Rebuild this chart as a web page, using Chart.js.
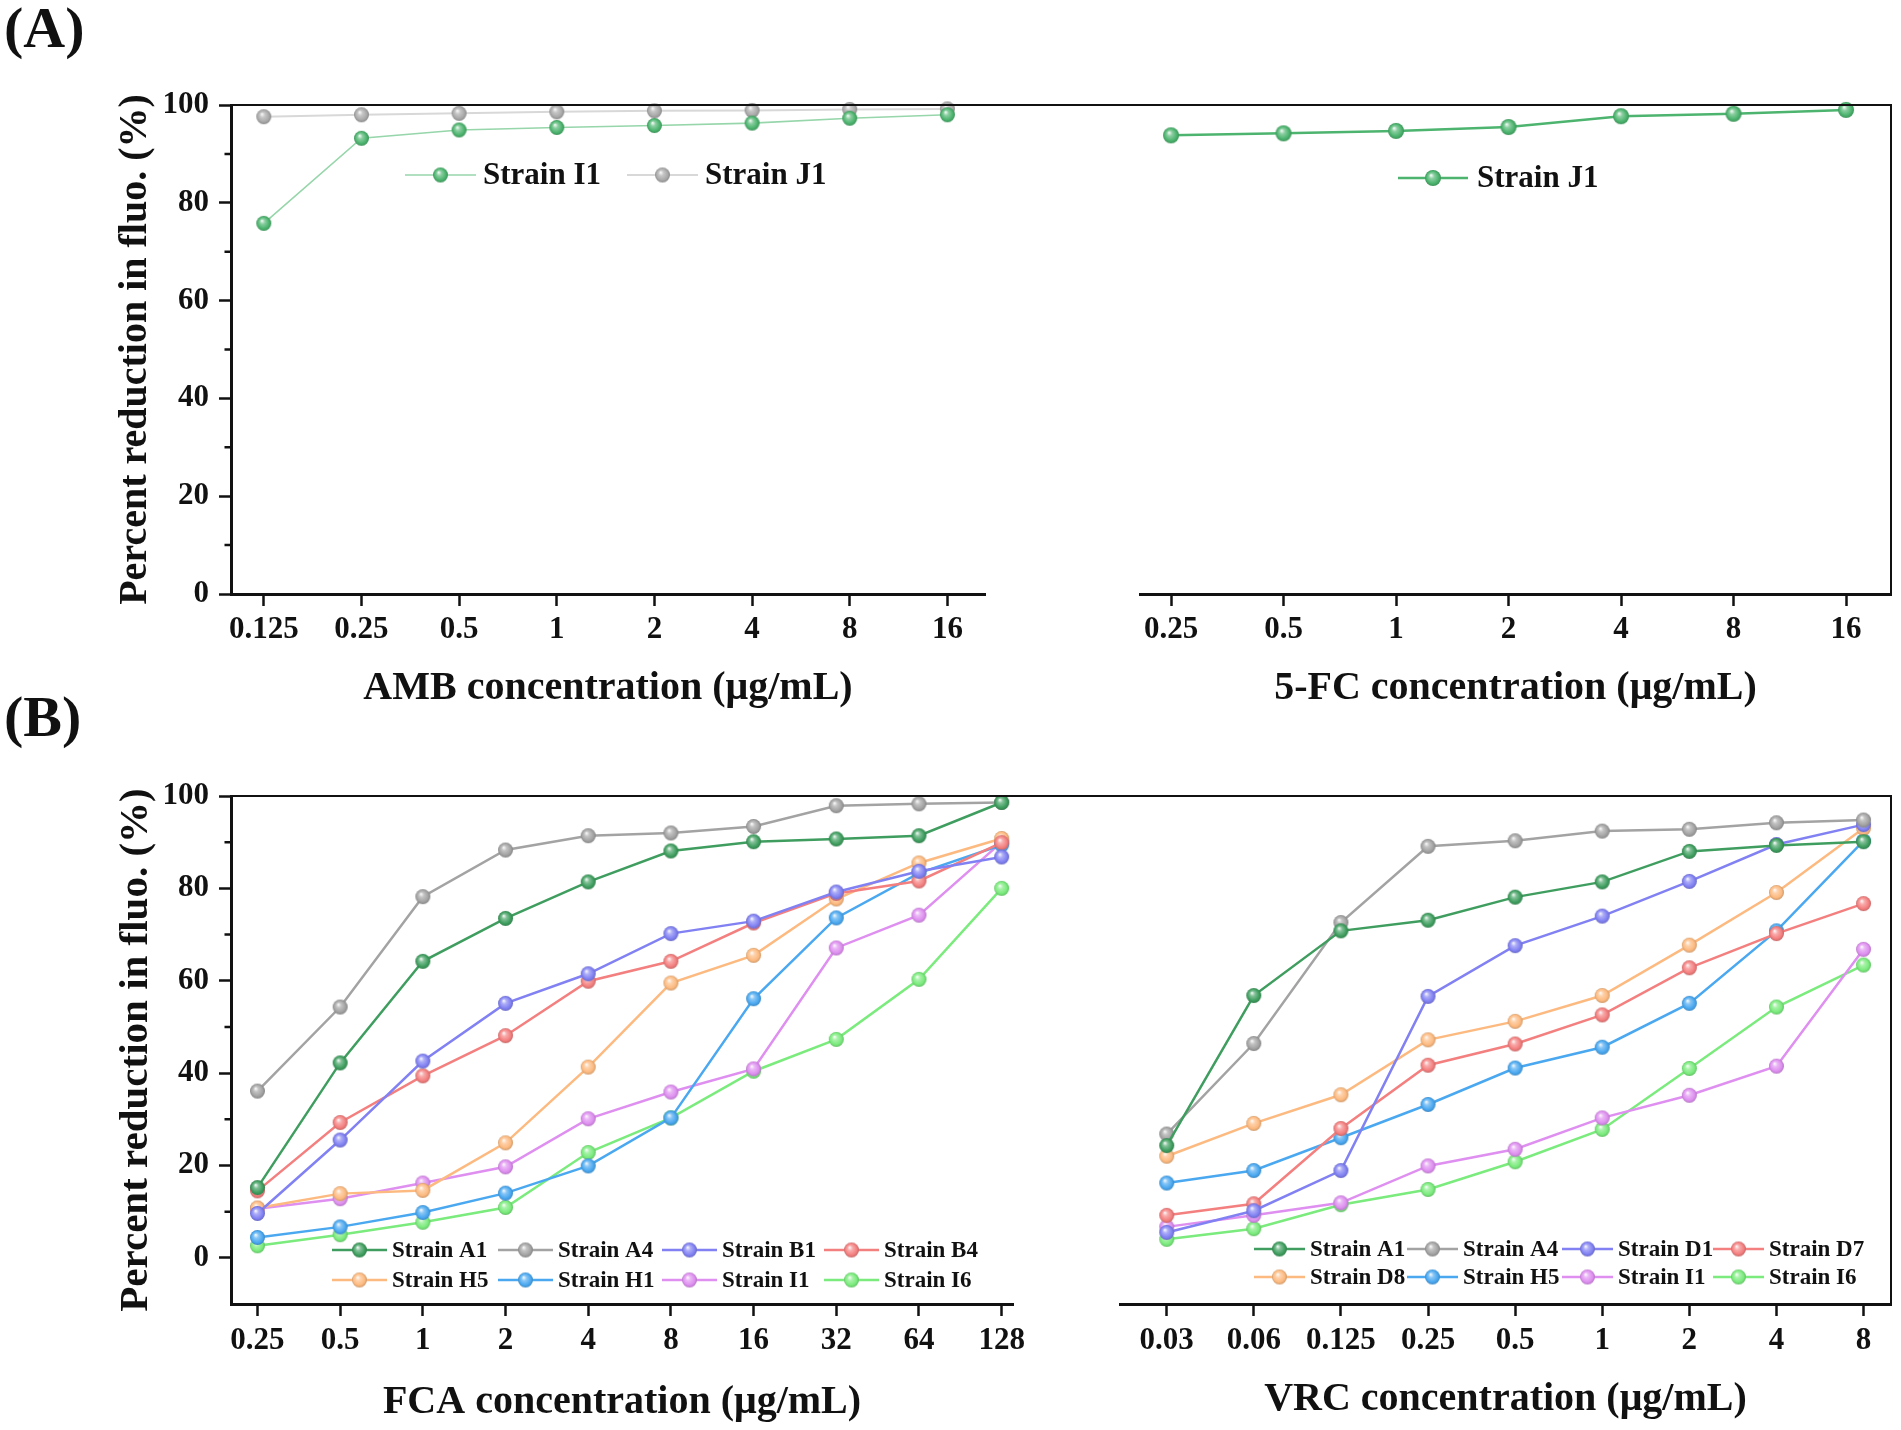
<!DOCTYPE html>
<html lang="en">
<head>
<meta charset="UTF-8">
<title>Percent reduction in fluorescence</title>
<script src="https://cdn.jsdelivr.net/npm/chart.js"></script>
<style>
  html, body { margin: 0; padding: 0; background: #fff; }
  #page { position: relative; width: 1901px; height: 1430px; overflow: hidden; font-family: "Liberation Serif", "Times New Roman", serif; }
  canvas { position: absolute; left: 0; }
  .tag { position: absolute; left: 4px; font-weight: bold; font-size: 58px; line-height: 1; color: #111; }
</style>
</head>
<body>
<div id="page">
  <div class="tag" style="top:-1px">(A)</div>
  <div class="tag" style="top:688px">(B)</div>
  <canvas id="ambChart" width="1901" height="730" style="top:0"></canvas>
  <canvas id="fcChart" width="1901" height="730" style="top:0"></canvas>
  <canvas id="fcaChart" width="1901" height="700" style="top:730px"></canvas>
  <canvas id="vrcChart" width="1901" height="700" style="top:730px"></canvas>
</div>
<script>
// ---- data ----
const yTicks = [0, 20, 40, 60, 80, 100];
const yMinor = [10, 30, 50, 70, 90];

// (A) AMB
const ambLabels = ['0.125', '0.25', '0.5', '1', '2', '4', '8', '16'];
const ambI1 = [75.8, 93.2, 94.9, 95.4, 95.8, 96.3, 97.3, 98.0];
const ambJ1 = [97.6, 98.0, 98.3, 98.6, 98.8, 98.9, 99.1, 99.2];

// (A) 5-FC
const fcLabels = ['0.25', '0.5', '1', '2', '4', '8', '16'];
const fcJ1 = [93.8, 94.2, 94.7, 95.5, 97.7, 98.2, 99.0];

// (B) FCA
const fcaLabels = ['0.25', '0.5', '1', '2', '4', '8', '16', '32', '64', '128'];
const fcaA1 = [15.2, 42.2, 64.2, 73.5, 81.4, 88.1, 90.1, 90.7, 91.4, 98.6];
const fcaA4 = [36.1, 54.3, 78.2, 88.3, 91.4, 92.0, 93.4, 97.9, 98.3, 98.6];
const fcaB1 = [9.6, 25.5, 42.6, 55.1, 61.5, 70.2, 72.9, 79.2, 83.7, 86.8];
const fcaB4 = [14.5, 29.3, 39.4, 48.1, 59.9, 64.2, 72.5, 78.9, 81.6, 89.9];
const fcaH5 = [10.8, 13.9, 14.6, 24.9, 41.3, 59.5, 65.5, 77.7, 85.5, 90.8];
const fcaH1 = [4.4, 6.7, 9.8, 14.0, 19.9, 30.3, 56.1, 73.6, 83.3, 89.4];
const fcaI1 = [10.6, 12.8, 16.2, 19.7, 30.1, 35.9, 40.9, 67.1, 74.2, 90.0];
const fcaI6 = [2.6, 5.0, 7.7, 10.9, 22.8, 30.3, 40.4, 47.3, 60.3, 80.0];

// (B) VRC
const vrcLabels = ['0.03', '0.06', '0.125', '0.25', '0.5', '1', '2', '4', '8'];
const vrcA1 = [24.3, 56.8, 70.8, 73.1, 78.1, 81.4, 88.0, 89.3, 90.1];
const vrcA4 = [26.8, 46.4, 72.6, 89.1, 90.3, 92.4, 92.8, 94.2, 94.8];
const vrcD1 = [5.5, 10.2, 18.9, 56.6, 67.6, 74.0, 81.5, 89.5, 93.8];
const vrcD7 = [9.2, 11.7, 28.0, 41.7, 46.3, 52.6, 62.8, 70.2, 76.7];
const vrcD8 = [22.0, 29.1, 35.3, 47.2, 51.2, 56.8, 67.7, 79.1, 93.0];
const vrcH5 = [16.2, 18.9, 26.0, 33.2, 41.1, 45.6, 55.1, 70.8, 90.3];
const vrcI1 = [6.7, 9.2, 11.9, 19.9, 23.5, 30.3, 35.2, 41.5, 66.8];
const vrcI6 = [4.0, 6.3, 11.5, 14.8, 20.8, 27.8, 41.0, 54.3, 63.4];

// ---- styling ----
const SERIF = '"Liberation Serif", "Times New Roman", serif';
const INK = '#111';
const C = {
  green: '#3f9e5f', gray: '#a3a3a3', violet: '#8181f3', red: '#f47f7f',
  orange: '#fdba80', blue: '#4aa8f0', pink: '#de8ff0', lime: '#7aeb7c'
};

function shade(hex, t) {
  const n = parseInt(hex.slice(1), 16);
  const to = t >= 0 ? 255 : 0, k = Math.abs(t);
  const ch = v => Math.round(v + (to - v) * k);
  return 'rgb(' + ch(n >> 16) + ',' + ch((n >> 8) & 255) + ',' + ch(n & 255) + ')';
}

// shaded "ball" marker like the original plot symbols
function ball(color, r) {
  const c = document.createElement('canvas');
  const s = Math.ceil(r * 2 + 2);
  c.width = c.height = s;
  const g = c.getContext('2d');
  const m = s / 2;
  const grad = g.createRadialGradient(m - r * 0.25, m - r * 0.35, r * 0.05, m, m, r);
  grad.addColorStop(0, shade(color, 0.9));
  grad.addColorStop(0.3, shade(color, 0.35));
  grad.addColorStop(0.75, color);
  grad.addColorStop(1, shade(color, -0.18));
  g.fillStyle = grad;
  g.beginPath(); g.arc(m, m, r, 0, Math.PI * 2); g.fill();
  return c;
}

function series(label, values, color, o = {}) {
  return {
    label,
    data: values.map((y, i) => ({ x: i, y })),
    borderColor: o.line || color,
    borderWidth: o.width || 2.5,
    pointStyle: ball(color, o.r || 7.5),
    pointRadius: 7.5,
    tension: 0,
    fill: false,
    clip: false
  };
}

// top/right frame, minor y ticks and the in-plot legend
const framePlugin = {
  id: 'frame',
  afterDraw(chart, args, o) {
    const { ctx, chartArea: a } = chart;
    ctx.save();
    ctx.strokeStyle = INK;
    ctx.lineWidth = 2;
    ctx.beginPath();
    ctx.moveTo(a.left, a.top);
    ctx.lineTo(a.right + (o.extend || 0), a.top);
    if (o.right) { ctx.moveTo(a.right, a.top - 1); ctx.lineTo(a.right, a.bottom); }
    ctx.stroke();

    const y = chart.scales.y;
    if (o.minor && y.options.display) {
      ctx.lineWidth = 2.5;
      ctx.beginPath();
      o.minor.forEach(v => {
        const p = y.getPixelForValue(v);
        ctx.moveTo(a.left, p);
        ctx.lineTo(a.left - 6.5, p);
      });
      ctx.stroke();
    }

    const lg = o.legend;
    if (lg) {
      ctx.font = 'bold ' + lg.size + 'px ' + SERIF;
      ctx.textBaseline = 'middle';
      ctx.textAlign = 'left';
      lg.rows.forEach((row, ri) => row.forEach((di, ci) => {
        const ds = chart.data.datasets[di];
        const x = lg.xs[ci], yy = lg.ys[ri];
        ctx.strokeStyle = ds.borderColor;
        ctx.lineWidth = ds.borderWidth;
        ctx.beginPath(); ctx.moveTo(x, yy); ctx.lineTo(x + lg.len, yy); ctx.stroke();
        const img = ds.pointStyle;
        ctx.drawImage(img, x + lg.len / 2 - img.width / 2, yy - img.height / 2);
        ctx.fillStyle = INK;
        ctx.fillText(ds.label, x + lg.len + lg.gap, yy + 1);
      }));
    }
    ctx.restore();
  }
};

function font(size) { return { family: SERIF, size, weight: 'bold', lineHeight: 1.2 }; }

function makeChart(id, cfg) {
  const yAxis = cfg.showY ? {
    min: cfg.yMin, max: 100,
    afterBuildTicks: s => { s.ticks = yTicks.map(v => ({ value: v })); },
    afterFit: s => { s.width = 119; },
    ticks: { padding: 10, color: INK, font: font(31) },
    grid: { drawOnChartArea: false, tickLength: 12, tickWidth: 2.5, color: INK },
    border: { display: true, width: 3, color: INK },
    title: { display: true, text: 'Percent reduction in fluo. (%)', color: INK, padding: 0, font: font(cfg.yTitleSize || 40) }
  } : { display: false, min: cfg.yMin, max: 100 };

  return new Chart(document.getElementById(id), {
    type: 'line',
    data: { datasets: cfg.datasets },
    plugins: [framePlugin],
    options: {
      responsive: false,
      animation: false,
      events: [],
      layout: { padding: cfg.pad },
      plugins: { legend: { display: false }, tooltip: { enabled: false }, frame: cfg.frame },
      scales: {
        x: {
          type: 'linear', min: cfg.xMin, max: cfg.xMax,
          afterBuildTicks: s => { s.ticks = cfg.labels.map((_, i) => ({ value: i })); },
          afterFit: s => { s.height = cfg.xH; },
          ticks: { callback: v => cfg.labels[v], autoSkip: false, maxRotation: 0, padding: cfg.xTickPad, color: INK, font: font(31) },
          grid: { drawOnChartArea: false, tickLength: 12, tickWidth: 2.5, color: INK },
          border: { display: true, width: 3, color: INK },
          title: { display: true, text: cfg.xTitle, color: INK, padding: 0, font: font(40) }
        },
        y: yAxis
      }
    }
  });
}

const ROW_B = 730;

makeChart('ambChart', {
  labels: ambLabels, xMin: -0.336, xMax: 7.385, yMin: 0, showY: true,
  xTitle: 'AMB concentration (μg/mL)', xH: 119, xTickPad: 5,
  pad: { left: 112, right: 916, top: 105, bottom: 17 },
  datasets: [
    series('Strain I1', ambI1, '#4cb46e', { line: '#96d6aa', width: 1.6 }),
    series('Strain J1', ambJ1, '#a9a9a9', { line: '#d8d8d8', width: 2 })
  ],
  frame: { extend: 906, minor: yMinor,
    legend: { rows: [[0, 1]], xs: [405, 627], ys: [175], len: 71, gap: 7, size: 31 } }
});

makeChart('fcChart', {
  labels: fcLabels, xMin: -0.276, xMax: 6.4, yMin: 0, showY: false,
  xTitle: '5-FC concentration (μg/mL)', xH: 119, xTickPad: 5,
  pad: { left: 1140, right: 10, top: 105, bottom: 17 },
  datasets: [
    series('Strain J1', fcJ1, '#4cb46e', { line: '#4cb46e', width: 2.5, r: 8 })
  ],
  frame: { right: true,
    legend: { rows: [[0]], xs: [1398], ys: [178], len: 70, gap: 9, size: 31 } }
});

makeChart('fcaChart', {
  labels: fcaLabels, xMin: -0.32, xMax: 9.137, yMin: -10, showY: true, yTitleSize: 41,
  xTitle: 'FCA concentration (μg/mL)', xH: 123, xTickPad: 6,
  pad: { left: 112, right: 888, top: 66, bottom: 3 },
  datasets: [
    series('Strain A1', fcaA1, C.green),
    series('Strain A4', fcaA4, C.gray),
    series('Strain B1', fcaB1, C.violet),
    series('Strain B4', fcaB4, C.red),
    series('Strain H5', fcaH5, C.orange),
    series('Strain H1', fcaH1, C.blue),
    series('Strain I1', fcaI1, C.pink),
    series('Strain I6', fcaI6, C.lime)
  ],
  frame: { extend: 879, minor: yMinor,
    legend: { rows: [[0, 1, 2, 3], [4, 5, 6, 7]], xs: [332, 498, 662, 824],
      ys: [1250 - ROW_B, 1280 - ROW_B], len: 55, gap: 5, size: 23 } }
});

makeChart('vrcChart', {
  labels: vrcLabels, xMin: -0.536, xMax: 8.315, yMin: -10, showY: false,
  xTitle: 'VRC concentration (μg/mL)', xH: 120, xTickPad: 6,
  pad: { left: 1120, right: 9, top: 66, bottom: 6 },
  datasets: [
    series('Strain A1', vrcA1, C.green),
    series('Strain A4', vrcA4, C.gray),
    series('Strain D1', vrcD1, C.violet),
    series('Strain D7', vrcD7, C.red),
    series('Strain D8', vrcD8, C.orange),
    series('Strain H5', vrcH5, C.blue),
    series('Strain I1', vrcI1, C.pink),
    series('Strain I6', vrcI6, C.lime)
  ],
  frame: { right: true,
    legend: { rows: [[0, 1, 2, 3], [4, 5, 6, 7]], xs: [1254, 1407, 1562, 1713],
      ys: [1249 - ROW_B, 1277 - ROW_B], len: 51, gap: 5, size: 23 } }
});
</script>
</body>
</html>
